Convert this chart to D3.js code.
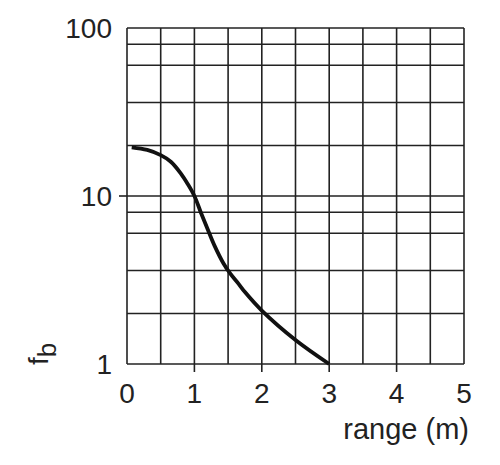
<!DOCTYPE html>
<html>
<head>
<meta charset="utf-8">
<script src="https://cdn.jsdelivr.net/npm/d3@7"></script>
<style>
  body { margin: 0; background: #fff; }
  text { font-family: "Liberation Sans", Arial, sans-serif; fill: #222; }
</style>
</head>
<body>
<div id="chart"></div>
<script>
// curve values
var rangeM = [0.07, 0.3, 0.5, 0.65, 0.8, 0.9, 1.0, 1.1, 1.2, 1.3, 1.43, 1.53, 1.65, 1.75, 2.0, 2.5, 3.0];
var fb = [19.5, 18.8, 17.5, 16.0, 13.6, 11.8, 10.0, 7.9, 6.3, 5.05, 3.98, 3.46, 3.02, 2.68, 2.08, 1.39, 1.0];

// grid lines and tick labels
var xGrid = [0, 0.5, 1, 1.5, 2, 2.5, 3, 3.5, 4, 4.5, 5];
var yGrid = [1, 2, 3.6, 6, 8, 10, 20, 36, 60, 80, 100];
var xTicks = [0, 1, 2, 3, 4, 5];
var xTickMarks = [1, 2, 3, 4];
var yTicks = [1, 10, 100];
var yTickMarks = [10];

var width = 500, height = 465;
var plotLeft = 127, plotRight = 464, plotTop = 28, plotBottom = 364;

var svg = d3.select("#chart").append("svg")
    .attr("width", width)
    .attr("height", height);

var x = d3.scaleLinear().domain([0, 5]).range([plotLeft, plotRight]);
var y = d3.scaleLog().domain([1, 100]).range([plotBottom, plotTop]);

// grid
svg.append("g").selectAll("line")
    .data(xGrid)
    .enter().append("line")
    .attr("x1", function(d) { return x(d); })
    .attr("x2", function(d) { return x(d); })
    .attr("y1", plotTop)
    .attr("y2", plotBottom)
    .attr("stroke", "#222")
    .attr("stroke-width", 1.6);

svg.append("g").selectAll("line")
    .data(yGrid)
    .enter().append("line")
    .attr("x1", plotLeft)
    .attr("x2", plotRight)
    .attr("y1", function(d) { return y(d); })
    .attr("y2", function(d) { return y(d); })
    .attr("stroke", "#222")
    .attr("stroke-width", 1.6);

// small tick marks outside the frame
svg.append("g").selectAll("line")
    .data(xTickMarks)
    .enter().append("line")
    .attr("x1", function(d) { return x(d); })
    .attr("x2", function(d) { return x(d); })
    .attr("y1", plotBottom)
    .attr("y2", plotBottom + 8)
    .attr("stroke", "#222")
    .attr("stroke-width", 1.6);

svg.append("g").selectAll("line")
    .data(yTickMarks)
    .enter().append("line")
    .attr("x1", plotLeft - 8)
    .attr("x2", plotLeft)
    .attr("y1", function(d) { return y(d); })
    .attr("y2", function(d) { return y(d); })
    .attr("stroke", "#222")
    .attr("stroke-width", 1.6);

// tick labels
svg.append("g").selectAll("text")
    .data(xTicks)
    .enter().append("text")
    .attr("x", function(d) { return x(d); })
    .attr("y", plotBottom + 39)
    .attr("text-anchor", "middle")
    .style("font-size", "28px")
    .text(function(d) { return d; });

svg.append("g").selectAll("text")
    .data(yTicks)
    .enter().append("text")
    .attr("x", plotLeft - 15)
    .attr("y", function(d) { return y(d) + 10; })
    .attr("text-anchor", "end")
    .style("font-size", "28px")
    .text(function(d) { return d; });

// axis titles
svg.append("text")
    .attr("x", 469)
    .attr("y", 439)
    .attr("text-anchor", "end")
    .style("font-size", "29px")
    .text("range (m)");

var yl = svg.append("text")
    .attr("transform", "translate(48,365) rotate(-90)")
    .style("font-size", "28px");
yl.append("tspan").text("f");
yl.append("tspan")
    .attr("dy", 8)
    .style("font-size", "26px")
    .text("b");

// curve
var line = d3.line()
    .x(function(d) { return x(d[0]); })
    .y(function(d) { return y(d[1]); })
    .curve(d3.curveCatmullRom.alpha(0.5));

svg.append("path")
    .datum(d3.zip(rangeM, fb))
    .attr("d", line)
    .attr("fill", "none")
    .attr("stroke", "#111")
    .attr("stroke-width", 3.8);
</script>
</body>
</html>
